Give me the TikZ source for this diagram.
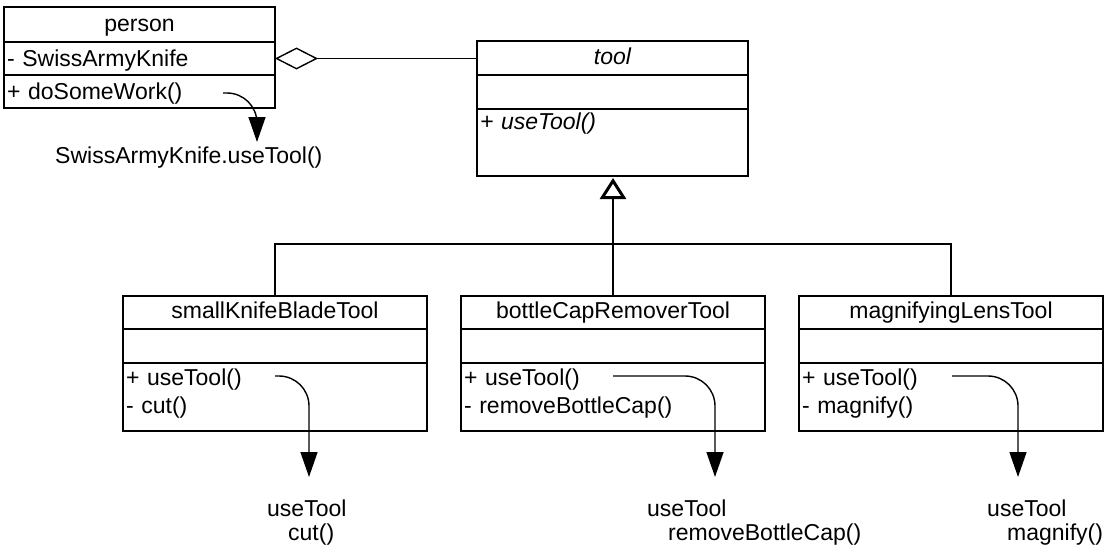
\documentclass[tikz,border=0pt]{standalone}
\usepackage{fontspec}
\setmainfont{Liberation Sans}
\usetikzlibrary{arrows.meta}
\usetikzlibrary{positioning}

\begin{document}
\begin{tikzpicture}[
    x=1pt, y=-1pt,
    node distance=0pt,
    font=\fontsize{23}{28}\selectfont,
    cls/.style={draw, line width=1.4pt, outer sep=0pt, inner xsep=3pt, inner ysep=0pt,
      text width=#1, align=left},
    clsname/.style={cls=#1, align=center, text height=22pt, text depth=11pt},
    clsslot/.style={cls=#1, text height=22pt, text depth=12pt},
    clsops/.style={cls=#1, text height=22pt, text depth=46pt},
    line/.style={line width=1.4pt},
    aggr/.style={line, {Diamond[open, length=43pt, width=22pt]}-},
    inherit/.style={line, -{Triangle[open, length=21pt, width=26pt, line width=3pt]}, shorten >=2pt},
    call/.style={line, rounded corners=30pt, -{Triangle[length=25pt, width=17pt]}},
    result/.style={inner sep=0pt, align=left, font=\fontsize{23}{24}\selectfont},
  ]
  \useasboundingbox (0,0) rectangle (1110,551);

  % === person ===
  \node[clsname=265pt, anchor=north west, text height=25pt, text depth=10pt] (persname) at (4,7) {person};
  \node[clsslot=265pt, below=of persname, text height=24.5pt, text depth=8.5pt] (persattr) {- SwissArmyKnife};
  \node[clsslot=265pt, below=of persattr, text height=24.5pt, text depth=8.5pt] (persops) {+ doSomeWork()};

  % === tool (abstract) ===
  \node[clsname=265pt, anchor=north west, text height=23pt] (toolname) at (477,41) {\itshape tool};
  \node[clsslot=265pt, below=of toolname] (toolattr) {};
  \node[clsops=265pt, below=of toolattr, text height=20pt, text depth=47pt] (toolops) {\itshape + useTool()};

  \draw[aggr] (persattr.east) -- (persattr.east -| toolname.west);

  % === subclasses ===
  \node[clsname=298pt, anchor=north west] (skbname) at (123,296) {smallKnifeBladeTool};
  \node[clsslot=298pt, below=of skbname] (skbattr) {};
  \node[clsops=298pt, below=of skbattr] (skbops) {+ useTool()\\- cut()};

  \node[clsname=298pt, right=34pt of skbname] (bcrname) {bottleCapRemoverTool};
  \node[clsslot=298pt, below=of bcrname] (bcrattr) {};
  \node[clsops=298pt, below=of bcrattr] (bcrops) {+ useTool()\\- removeBottleCap()};

  \node[clsname=298pt, right=34pt of bcrname] (mltname) {magnifyingLensTool};
  \node[clsslot=298pt, below=of mltname] (mltattr) {};
  \node[clsops=298pt, below=of mltattr] (mltops) {+ useTool()\\- magnify()};

  % generalization
  \coordinate (hub) at (613,244);
  \draw[line] (skbname.north) |- (hub) -| (mltname.north);
  \draw[inherit] (bcrname.north) -- (bcrname.north |- toolops.south);

  % === calls ===
  \coordinate (pfrom) at (223,93);
  \coordinate (pto) at (257,142);
  \draw[call] (pfrom) -| (pto);
  \node[result, anchor=north west] (pres) at (55,147) {SwissArmyKnife.useTool()};

  \coordinate (skbfrom) at (275,376);
  \coordinate (skbto) at (309,477);
  \draw[call] (skbfrom) -| (skbto);
  \node[result, anchor=north west] (skbres) at (267,500) {useTool\\\hspace*{21pt}cut()};

  \coordinate (bcrfrom) at (613,376);
  \coordinate (bcrto) at (715,477);
  \draw[call] (bcrfrom) -| (bcrto);
  \node[result, anchor=north west] (bcrres) at (647,500) {useTool\\\hspace*{21pt}removeBottleCap()};

  \coordinate (mltfrom) at (952,376);
  \coordinate (mltto) at (1018,477);
  \draw[call] (mltfrom) -| (mltto);
  \node[result, anchor=north west] (mltres) at (987,500) {useTool\\\hspace*{20pt}magnify()};

\end{tikzpicture}
\end{document}
